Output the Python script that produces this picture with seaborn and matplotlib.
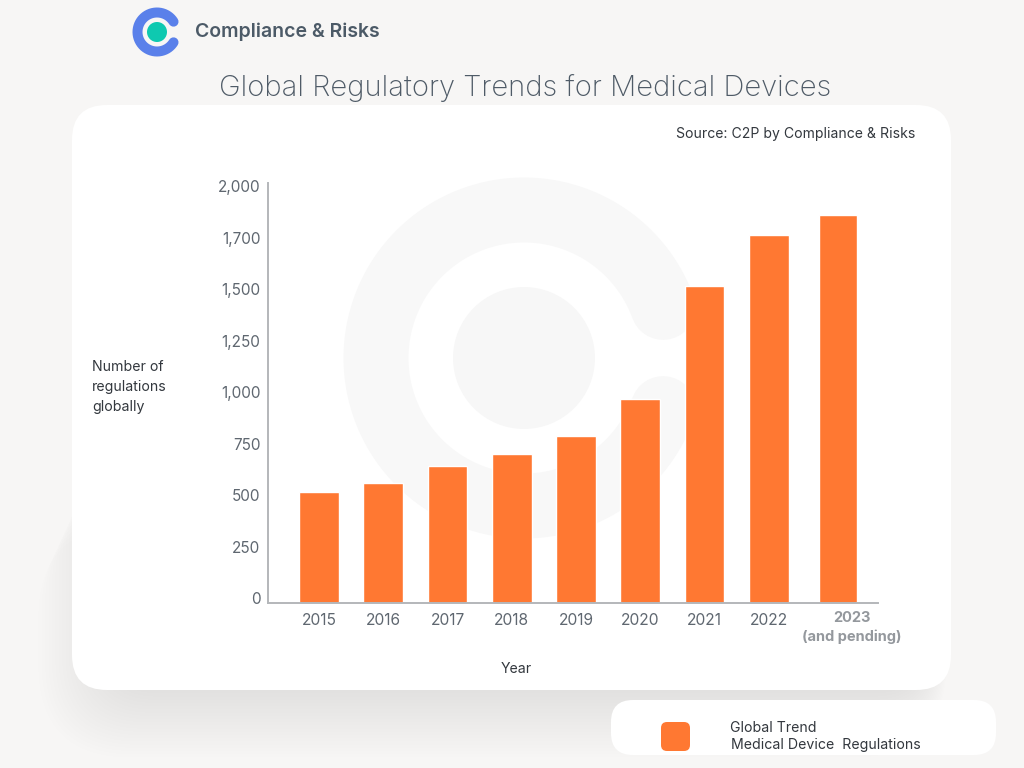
import numpy as np
import pandas as pd
import matplotlib
matplotlib.use("Agg")
import matplotlib.pyplot as plt
import matplotlib.transforms as mtrans
from matplotlib.patches import FancyBboxPatch, Circle
import seaborn as sns

years = ["2015", "2016", "2017", "2018", "2019", "2020", "2021", "2022", "2023"]
regulations = [539, 583, 665, 723, 811, 988, 1537, 1787, 1885]
year_labels = ["2015", "2016", "2017", "2018", "2019", "2020", "2021", "2022", ""]
tick_values = [0, 250, 500, 750, 1000, 1250, 1500, 1750, 2000]
tick_labels = ["0", "250", "500", "750", "1,000", "1,250", "1,500", "1,700", "2,000"]

ORANGE = "#ff7832"
BG = "#f7f6f5"
GRAY_TEXT = "#5f6770"

sns.set_theme(style="white")
plt.rcParams["font.family"] = ["Inter", "DejaVu Sans"]

fig = plt.figure(figsize=(10.24, 7.68), dpi=100, facecolor=BG)

# background layer works in pixels of the picture, y going down
bg = fig.add_axes([0, 0, 1, 1], zorder=0)
bg.set_xlim(0, 1024)
bg.set_ylim(768, 0)
bg.axis("off")


def round_box(x0, y0, x1, y1, r, **kw):
    box = FancyBboxPatch((x0 + r, y0 + r), x1 - x0 - 2 * r, y1 - y0 - 2 * r,
                         boxstyle="round,pad=%d,rounding_size=%d" % (r, r), lw=0, **kw)
    bg.add_patch(box)


def arc_c(cx, cy, r, width_px, color, start=20, end=340):
    a = np.radians(np.linspace(start, end, 200))
    bg.plot(cx + r * np.cos(a), cy - r * np.sin(a), color=color, lw=width_px * 0.72,
            solid_capstyle="round")


# soft shadow under the card
for grow in range(0, 44, 2):
    round_box(110 - grow * 1.7, 400 + grow * 3, 925 + grow * 0.5, 690 + grow * 1.6, 50 + grow,
              color="#8a8a86", alpha=0.0065)

round_box(72, 105, 951, 690, 35, color="white")

# watermark logo in the card
arc_c(524, 358, 148, 65, "#f8f8f8")
bg.add_patch(Circle((524, 358), 71, color="#f7f7f7", lw=0))

# header logo
arc_c(157, 32, 19.5, 10, "#5a80ea", start=32, end=328)
bg.add_patch(Circle((157, 32), 10, color="#0ec9b0", lw=0))
bg.text(195, 32, "Compliance & Risks", fontsize=14, fontweight="semibold", color="#4c5a67", va="center")

bg.text(525, 88, "Global Regulatory Trends for Medical Devices", fontsize=21, fontweight="light",
        color="#4f5b67", ha="center", va="center")
bg.text(915, 134, "Source: C2P by Compliance & Risks", fontsize=10.1, color="#33383e", ha="right", va="center")
bg.text(92, 387, "Number of\nregulations\nglobally", fontsize=10.2, color="#33383e", va="center", linespacing=1.53)
bg.text(516, 669, "Year", fontsize=10.2, color="#33383e", ha="center", va="center")

# legend box
round_box(611, 700, 996, 755, 22, color="white")
round_box(661, 722, 690, 751, 6, color=ORANGE)
bg.text(730, 728, "Global Trend", fontsize=10.2, color="#33383e", va="center")
bg.text(731, 745, "Medical Device  Regulations", fontsize=10.2, color="#33383e", va="center")

# chart
df = pd.DataFrame({"year": years, "regulations": regulations})
ax = fig.add_axes([268 / 1024, 1 - 603 / 768, 610 / 1024, 420 / 768], zorder=2)
ax.patch.set_alpha(0)
sns.barplot(data=df, x="year", y="regulations", color=ORANGE, saturation=1, width=0.62, ax=ax)
ax.set_xlim(-0.794, 8.70)
ax.set_ylim(0, 2039)
ax.set_xlabel("")
ax.set_ylabel("")
ax.set_xticks(range(len(years)))
ax.set_xticklabels(year_labels, fontsize=11.2, color=GRAY_TEXT)
ax.set_yticks(tick_values)
ax.set_yticklabels(tick_labels, fontsize=11, color=GRAY_TEXT)
ax.tick_params(axis="both", length=0)
ax.tick_params(axis="y", pad=5.5)
ax.tick_params(axis="x", pad=7)

# the y labels sit slightly above their positions in the original
shift = mtrans.ScaledTranslation(0, 5 / 100, fig.dpi_scale_trans)
for lab in ax.get_yticklabels():
    lab.set_transform(lab.get_transform() + shift)

# last bar and its label are set a little to the right, and the bar is a bit narrower
last_bar = ax.patches[8]
last_bar.set_x(last_bar.get_x() + 0.09)
last_bar.set_width(0.59)

ax.annotate("2023\n(and pending)", xy=(8, 0), xytext=(13.5, -6), textcoords="offset points",
            ha="center", va="top", fontsize=10.5, fontweight="bold", color="#94989d", linespacing=1.35,
            annotation_clip=False)

sns.despine(ax=ax)
for side in ["left", "bottom"]:
    ax.spines[side].set_color("#b4b7ba")
    ax.spines[side].set_linewidth(1.4)

fig.savefig("out.png", dpi=100, facecolor=BG)
